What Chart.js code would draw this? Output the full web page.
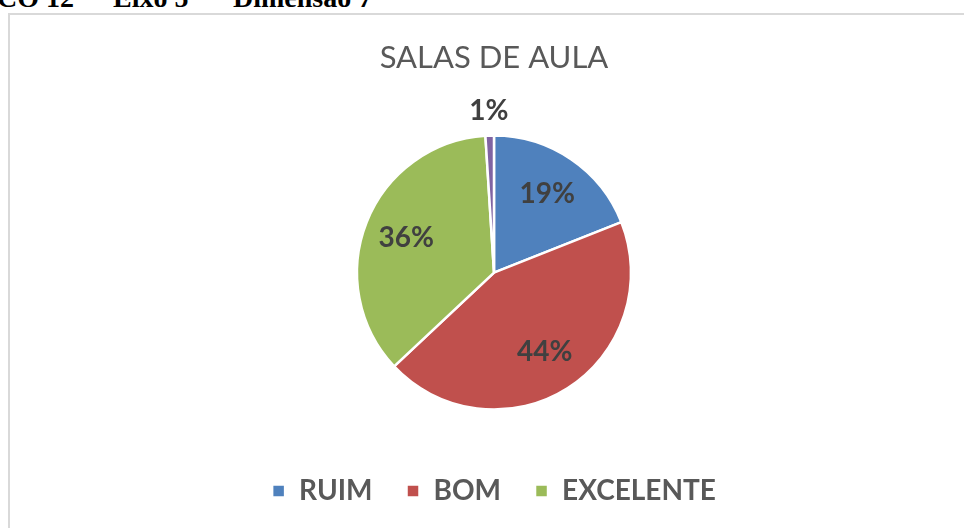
<!DOCTYPE html>
<html>
<head>
<meta charset="utf-8">
<script src="https://cdn.jsdelivr.net/npm/chart.js@4/dist/chart.umd.min.js"></script>
<style>
  html, body { margin: 0; padding: 0; background: #fff; overflow: hidden; width: 964px; height: 528px; }
  .hdr { position: absolute; top: -16px; font: bold 28px "Liberation Serif", "Times New Roman", serif; line-height: 28px; color: #000; white-space: nowrap; }
  .box { position: absolute; left: 8px; top: 13px; width: 1100px; height: 700px; border: 2px solid #d9d9d9; }
  #wrap { position: absolute; left: 0; top: 0; width: 988px; height: 528px; }
</style>
</head>
<body>
<div class="hdr" style="left:-3px">CO 12</div>
<div class="hdr" style="left:113px">Eixo 5</div>
<div class="hdr" style="left:233px">Dimensão 7</div>
<div class="box"></div>
<div id="wrap"><canvas id="pie"></canvas></div>
<script>
const categories = ['RUIM', 'BOM', 'EXCELENTE', ''];
const values = [19, 44, 36, 1];
const valueLabels = ['19%', '44%', '36%', '1%'];
const colors = ['#4F81BD', '#C0504D', '#9BBB59', '#8064A2'];

// labels inside the slices, the tiny one goes outside
const sliceLabels = {
  id: 'sliceLabels',
  afterDatasetsDraw(chart) {
    const ctx = chart.ctx;
    const meta = chart.getDatasetMeta(0);
    ctx.save();
    ctx.font = 'bold 28px Lato, "Open Sans", sans-serif';
    ctx.fillStyle = '#404040';
    ctx.textAlign = 'center';
    ctx.textBaseline = 'middle';
    meta.data.forEach((arc, i) => {
      const {x, y, startAngle, endAngle, outerRadius} = arc.getProps(['x', 'y', 'startAngle', 'endAngle', 'outerRadius'], true);
      const mid = (startAngle + endAngle) / 2;
      const d = values[i] < 3 ? outerRadius + 25 : outerRadius * 0.69;
      ctx.fillText(valueLabels[i], x + Math.cos(mid) * d, y + Math.sin(mid) * d);
    });
    ctx.restore();
  }
};

const ctx = document.getElementById('pie').getContext('2d');
const myChart = new Chart(ctx, {
  type: 'pie',
  data: {
    labels: categories,
    datasets: [{
      data: values,
      backgroundColor: colors,
      borderColor: '#ffffff',
      borderWidth: 2.5
    }]
  },
  options: {
    responsive: true,
    maintainAspectRatio: false,
    animation: false,
    radius: 137,
    layout: { padding: { top: 0, bottom: 13, left: 0, right: 0 } },
    plugins: {
      title: {
        display: true,
        text: 'SALAS DE AULA',
        color: '#595959',
        font: { family: 'Lato, "Open Sans", sans-serif', size: 31, weight: 'normal' },
        padding: { top: 39, bottom: 26 }
      },
      legend: {
        position: 'bottom',
        labels: {
          color: '#595959',
          font: { family: 'Lato, "Open Sans", sans-serif', size: 28, weight: 'bold' },
          boxWidth: 13,
          boxHeight: 13,
          padding: 34,
          filter: (item) => item.text !== ''
        }
      },
      tooltip: { enabled: false }
    }
  },
  plugins: [sliceLabels]
});
</script>
</body>
</html>
